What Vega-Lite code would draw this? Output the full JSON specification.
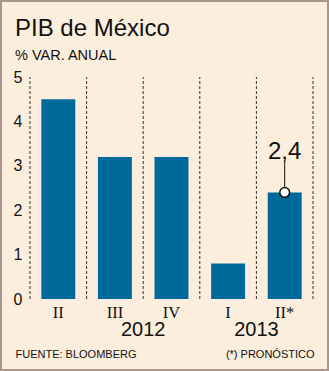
{
  "$schema": "https://vega.github.io/schema/vega-lite/v6.json",
  "width": 329,
  "height": 371,
  "padding": 0,
  "autosize": {"type": "none"},
  "background": "#FCEEDC",
  "config": {
    "view": {"stroke": "#A8978A", "strokeWidth": 4, "fill": null}
  },
  "title": {
    "text": "PIB de México",
    "subtitle": "% VAR. ANUAL",
    "anchor": "start",
    "frame": "group",
    "dx": 15,
    "offset": -62,
    "font": "Liberation Sans",
    "fontSize": 24,
    "fontWeight": "normal",
    "color": "#111111",
    "subtitleFont": "Liberation Sans",
    "subtitleFontSize": 14.5,
    "subtitleColor": "#111111",
    "subtitlePadding": 8
  },
  "data": {
    "values": [
      {"q": "II", "value": 4.5, "year": null, "label": null},
      {"q": "III", "value": 3.2, "year": "2012", "label": null},
      {"q": "IV", "value": 3.2, "year": null, "label": null},
      {"q": "I", "value": 0.8, "year": "2013", "label": null},
      {"q": "II*", "value": 2.4, "year": null, "label": "2,4"}
    ]
  },
  "encoding": {
    "x": {
      "field": "q",
      "type": "ordinal",
      "sort": null,
      "scale": {"range": [30, 313], "paddingInner": 0, "paddingOuter": 0},
      "axis": {
        "orient": "bottom",
        "offset": -72,
        "domain": false,
        "ticks": false,
        "grid": false,
        "labelAngle": 0,
        "labelPadding": 5,
        "labelFont": "Liberation Serif",
        "labelFontSize": 16.5,
        "labelColor": "#111111",
        "title": "FUENTE: BLOOMBERG",
        "titleAnchor": "start",
        "titleAlign": "left",
        "titleBaseline": "alphabetic",
        "titleX": 15,
        "titleY": 58,
        "titleFont": "Liberation Sans",
        "titleFontSize": 11,
        "titleFontWeight": "normal",
        "titleColor": "#111111"
      }
    }
  },
  "layer": [
    {
      "mark": {"type": "rule", "strokeDash": [3, 2], "color": "#333333", "strokeWidth": 1},
      "encoding": {
        "x": {"field": "q", "type": "ordinal", "sort": null, "bandPosition": 0},
        "y": {"datum": 0, "type": "quantitative"},
        "y2": {"datum": 5}
      }
    },
    {
      "transform": [{"filter": "datum.q === 'II*'"}],
      "mark": {"type": "rule", "strokeDash": [3, 2], "color": "#333333", "strokeWidth": 1},
      "encoding": {
        "x": {"field": "q", "type": "ordinal", "sort": null, "bandPosition": 1},
        "y": {"datum": 0, "type": "quantitative"},
        "y2": {"datum": 5}
      }
    },
    {
      "mark": {"type": "bar", "color": "#00699B", "width": {"band": 0.6}},
      "encoding": {
        "y": {
          "field": "value",
          "type": "quantitative",
          "scale": {"domain": [0, 5], "range": [299, 77], "nice": false, "zero": true},
          "axis": {
            "orient": "left",
            "offset": -30,
            "domain": false,
            "ticks": false,
            "grid": false,
            "values": [0, 1, 2, 3, 4, 5],
            "format": "d",
            "labelPadding": 8,
            "labelFont": "Liberation Sans",
            "labelFontSize": 16,
            "labelColor": "#111111",
            "title": "(*) PRONÓSTICO",
            "titleAngle": 0,
            "titleX": 284,
            "titleY": 357,
            "titleAlign": "right",
            "titleBaseline": "alphabetic",
            "titleFont": "Liberation Sans",
            "titleFontSize": 11,
            "titleFontWeight": "normal",
            "titleColor": "#111111"
          }
        }
      }
    },
    {
      "transform": [{"filter": "datum.year != null"}],
      "mark": {"type": "text", "font": "Liberation Sans", "fontSize": 20, "color": "#111111", "dy": 31, "baseline": "middle"},
      "encoding": {
        "x": {"field": "q", "type": "ordinal", "sort": null, "bandPosition": 1},
        "y": {"datum": 0, "type": "quantitative"},
        "text": {"field": "year"}
      }
    },
    {
      "transform": [{"filter": "datum.label != null"}],
      "mark": {"type": "rule", "color": "#111111", "strokeWidth": 1, "y2Offset": -31},
      "encoding": {
        "y": {"field": "value", "type": "quantitative"},
        "y2": {"field": "value"}
      }
    },
    {
      "transform": [{"filter": "datum.label != null"}],
      "mark": {"type": "point", "shape": "circle", "filled": true, "fill": "#FFFFFF", "stroke": "#111111", "strokeWidth": 1.5, "size": 95, "opacity": 1},
      "encoding": {
        "y": {"field": "value", "type": "quantitative"}
      }
    },
    {
      "transform": [{"filter": "datum.label != null"}],
      "mark": {"type": "text", "font": "Liberation Sans", "fontSize": 24, "color": "#111111", "dy": -40, "baseline": "middle"},
      "encoding": {
        "y": {"field": "value", "type": "quantitative"},
        "text": {"field": "label"}
      }
    }
  ]
}
